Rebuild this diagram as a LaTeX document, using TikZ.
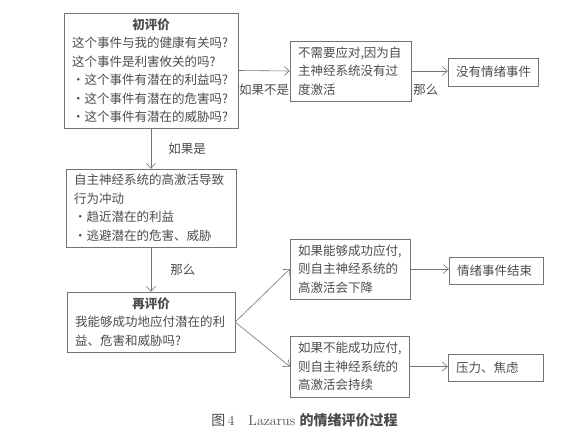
\documentclass[tikz,border=0pt]{standalone}
\usepackage{fontspec}
\newfontfamily\cjk{Noto Sans CJK SC}
\usepackage{tikz}
\usetikzlibrary{arrows.meta}
\definecolor{linegray}{gray}{0.45}
\definecolor{textgray}{gray}{0.3}
\tikzset{
	box/.style={draw=linegray, text=textgray, font={\cjk\fontsize{12.5}{18.5}\selectfont}, align=left, inner xsep=8pt, inner ysep=3pt},
	lbl/.style={text=textgray, font={\cjk\fontsize{12.5}{14}\selectfont}, inner sep=1pt},
	flow/.style={draw=linegray, line width=0.6pt, -{Straight Barb[length=5pt,width=9pt]}}
}
\begin{document}
\begin{tikzpicture}[x=1pt,y=-1pt]
					\useasboundingbox (0,0) rectangle (588,438);
					%Valutazioni
					\node [box, text width=158pt, minimum height=115pt] (init) at (151,70.5) {\makebox[\linewidth]{\bfseries 初评价}\\这个事件与我的健康有关吗?\\这个事件是利害攸关的吗?\\・这个事件有潜在的利益吗?\\・这个事件有潜在的危害吗?\\・这个事件有潜在的威胁吗?};
					\node [box, text width=105pt, minimum height=60pt] (nocope) at (350.5,71) {不需要应对,因为自\\主神经系统没有过\\度激活};
					\node [box, text width=74pt, minimum height=28pt] (noemo) at (493,72) {没有情绪事件};
					\node [box, text width=154pt, minimum height=78pt] (arousal) at (151,208) {自主神经系统的高激活导致\\行为冲动\\・趋近潜在的利益\\・逃避潜在的危害、威胁};
					\node [box, text width=152pt, minimum height=60pt] (reapp) at (151,322) {\makebox[\linewidth]{\bfseries 再评价}\\我能够成功地应付潜在的利\\益、危害和威胁吗?};
					\node [box, text width=104pt, minimum height=60pt] (cope) at (350,269) {如果能够成功应付,\\则自主神经系统的\\高激活会下降};
					\node [box, text width=103pt, minimum height=61pt] (fail) at (349.5,366.5) {如果不能成功应付,\\则自主神经系统的\\高激活会持续};
					\node [box, text width=78pt, minimum height=27pt] (endemo) at (496,270.5) {情绪事件结束};
					\node [box, text width=79pt, minimum height=27pt] (stress) at (495.5,367.5) {压力、焦虑};
					%Frecce
					\draw [flow] (init.east) -- (nocope.west) node [lbl, pos=0.5, below=12pt] (ifnot) {如果不是};
					\draw [flow] (nocope.east) -- (nocope.east -| noemo.west) node [lbl, pos=0.4, below=12pt] (then1) {那么};
					\draw [flow] (init.south) -- (arousal.north) node [lbl, pos=0.5, right=16pt] (ifyes) {如果是};
					\draw [flow] (arousal.south) -- (reapp.north) node [lbl, pos=0.5, right=18pt] (then2) {那么};
					\draw [flow] (reapp.east) -- (cope.west);
					\draw [flow] (reapp.east) -- (fail.west);
					\draw [flow] (cope.east) -- (cope.east -| endemo.west);
					\draw [flow] (fail.east) -- (fail.east -| stress.west);
					\node [text=textgray, font={\fontsize{14}{16}\selectfont}] (caption) at (304.5,420) {{\cjk 图}\,4\quad Lazarus {\cjk\bfseries 的情绪评价过程}};
\end{tikzpicture}
\end{document}
